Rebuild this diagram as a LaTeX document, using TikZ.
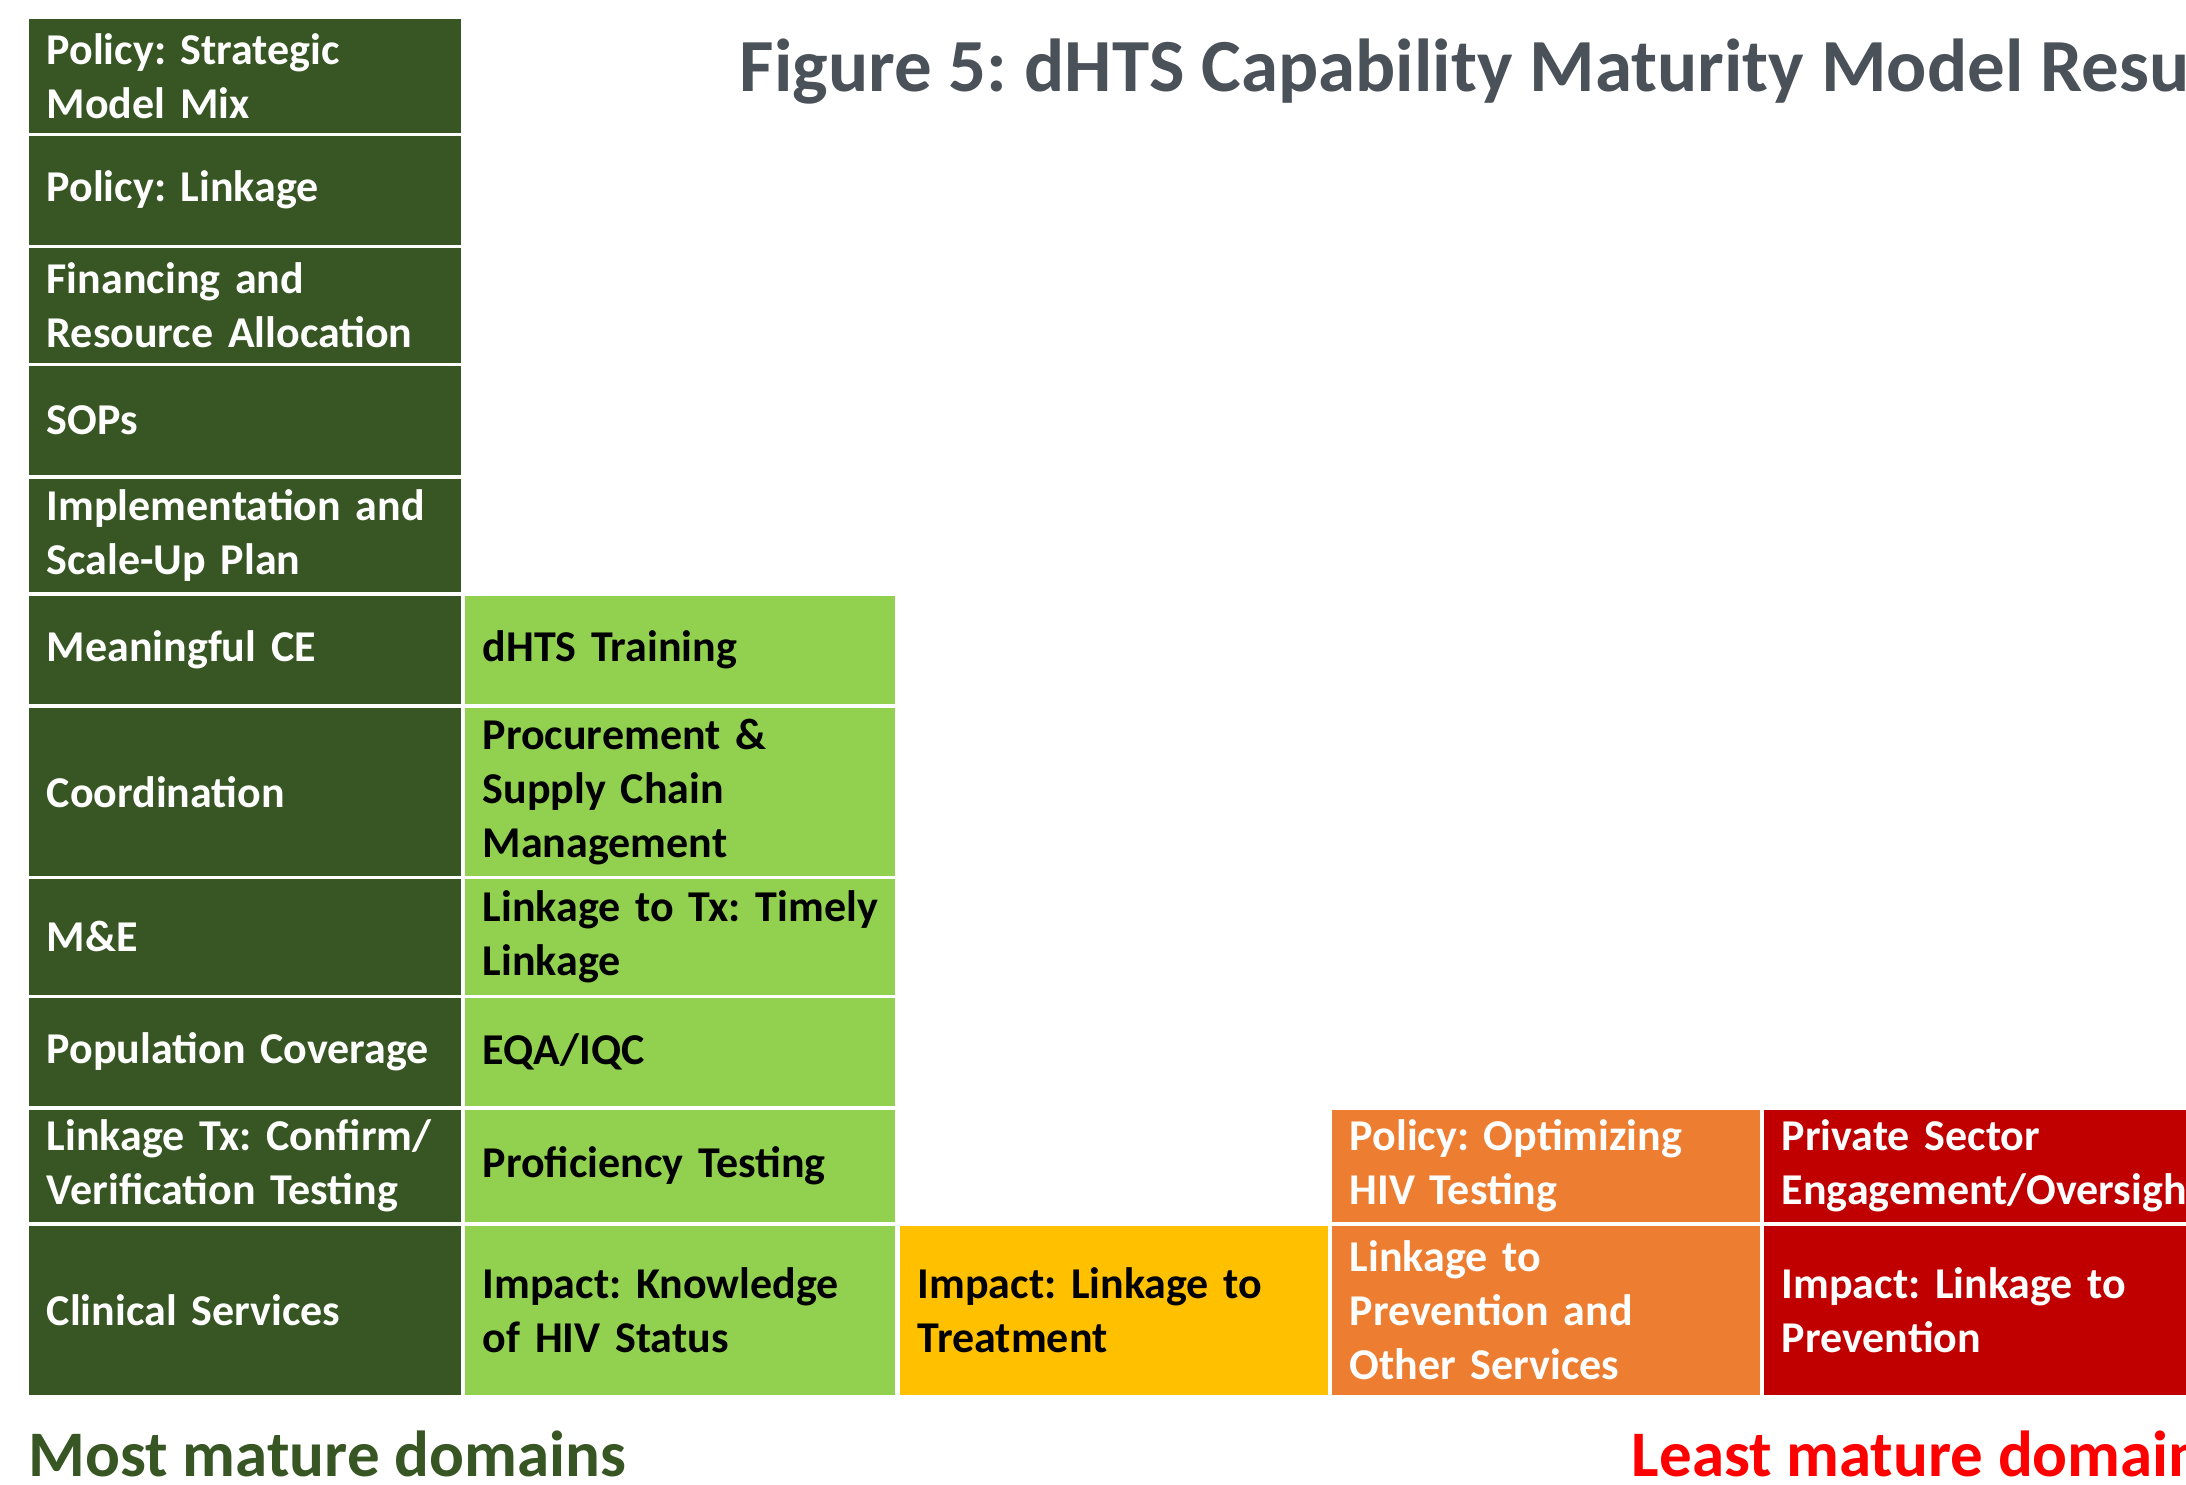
\documentclass[tikz,border=0pt]{standalone}
\usepackage{fontspec}
\setmainfont{Carlito}
\frenchspacing
\definecolor{dgreen}{HTML}{375623}
\definecolor{lgreen}{HTML}{92D050}
\definecolor{amber}{HTML}{FFC000}
\definecolor{orng}{HTML}{ED7D31}
\definecolor{dred}{HTML}{C00000}
\definecolor{titlegray}{HTML}{4A5159}
\definecolor{lred}{HTML}{FF0000}
\begin{document}
\begin{tikzpicture}[x=0.25pt,y=-0.25pt,
  cell/.style={anchor=north west, inner xsep=4.5pt, inner ysep=0pt, align=left,
    font=\bfseries\fontsize{11}{13.5}\selectfont\frenchspacing},
  colA/.style={cell, fill=dgreen, text=white, text width=99pt},
  colB/.style={cell, fill=lgreen, text=black, text width=98.5pt},
  colC/.style={cell, fill=amber, text=black, text width=98pt},
  colD/.style={cell, fill=orng, text=white, text width=98pt},
  colE/.style={cell, fill=dred, text=white, text width=103.5pt},
  caption/.style={anchor=base west, inner sep=0pt, font=\bfseries\fontsize{16.25}{19}\selectfont}]
\useasboundingbox (0,0) rectangle (2186,1485);
\clip (0,0) rectangle (2186,1485);
\fill[white] (0,0) rectangle (2186,1485);

% title
\node[anchor=base west, inner sep=0pt, text=titlegray,
  font=\bfseries\fontsize{18.75}{22}\selectfont\frenchspacing] (title) at (739,92)
  {Figure 5: dHTS Capability Maturity Model Results};

% most mature column
\node[colA, minimum height=28.5pt]  (a1)  at (28,18)   {Policy: Strategic\\Model Mix};
\node[colA, minimum height=27.25pt] (a2)  at (28,135)  {Policy: Linkage};
\node[colA, minimum height=28.75pt] (a3)  at (28,247)  {Financing and\\Resource Allocation};
\node[colA, minimum height=27.25pt] (a4)  at (28,365)  {SOPs};
\node[colA, minimum height=28.25pt] (a5)  at (28,478)  {Implementation and\\Scale-Up Plan};
\node[colA, minimum height=27pt]    (a6)  at (28,595)  {Meaningful CE};
\node[colA, minimum height=42pt]    (a7)  at (28,707)  {Coordination};
\node[colA, minimum height=29pt]    (a8)  at (28,878)  {M\&E};
\node[colA, minimum height=27pt]    (a9)  at (28,997)  {Population Coverage};
\node[colA, minimum height=28pt]    (a10) at (28,1109) {Linkage Tx: Confirm/\\Verification Testing};
\node[colA, minimum height=42.25pt] (a11) at (28,1225) {Clinical Services};

% second column
\node[colB, minimum height=27pt]    (b1) at (464,595)  {dHTS Training};
\node[colB, minimum height=42pt]    (b2) at (464,707)  {Procurement \&\\Supply Chain\\Management};
\node[colB, minimum height=29pt]    (b3) at (464,878)  {\mbox{Linkage to Tx: Timely}\\Linkage};
\node[colB, minimum height=27pt]    (b4) at (464,997)  {EQA/IQC};
\node[colB, minimum height=28pt]    (b5) at (464,1109) {Proficiency Testing};
\node[colB, minimum height=42.25pt] (b6) at (464,1225) {Impact: Knowledge\\of HIV Status};

% third column
\node[colC, minimum height=42.25pt] (c1) at (899,1225) {Impact: Linkage to\\Treatment};

% fourth column
\node[colD, minimum height=28pt]    (d1) at (1331,1109) {Policy: Optimizing\\HIV Testing};
\node[colD, minimum height=42.25pt] (d2) at (1331,1225) {Linkage to\\Prevention and\\Other Services};

% least mature column
\node[colE, minimum height=28pt]    (e1) at (1763,1109) {Private Sector\\\mbox{Engagement/Oversight}};
\node[colE, minimum height=42.25pt] (e2) at (1763,1225) {Impact: Linkage to\\Prevention};

% captions
\node[caption, text=dgreen] (most)  at (28,1476)   {Most mature domains};
\node[caption, text=lred]   (least) at (1631,1476) {Least mature domains};
\end{tikzpicture}
\end{document}
